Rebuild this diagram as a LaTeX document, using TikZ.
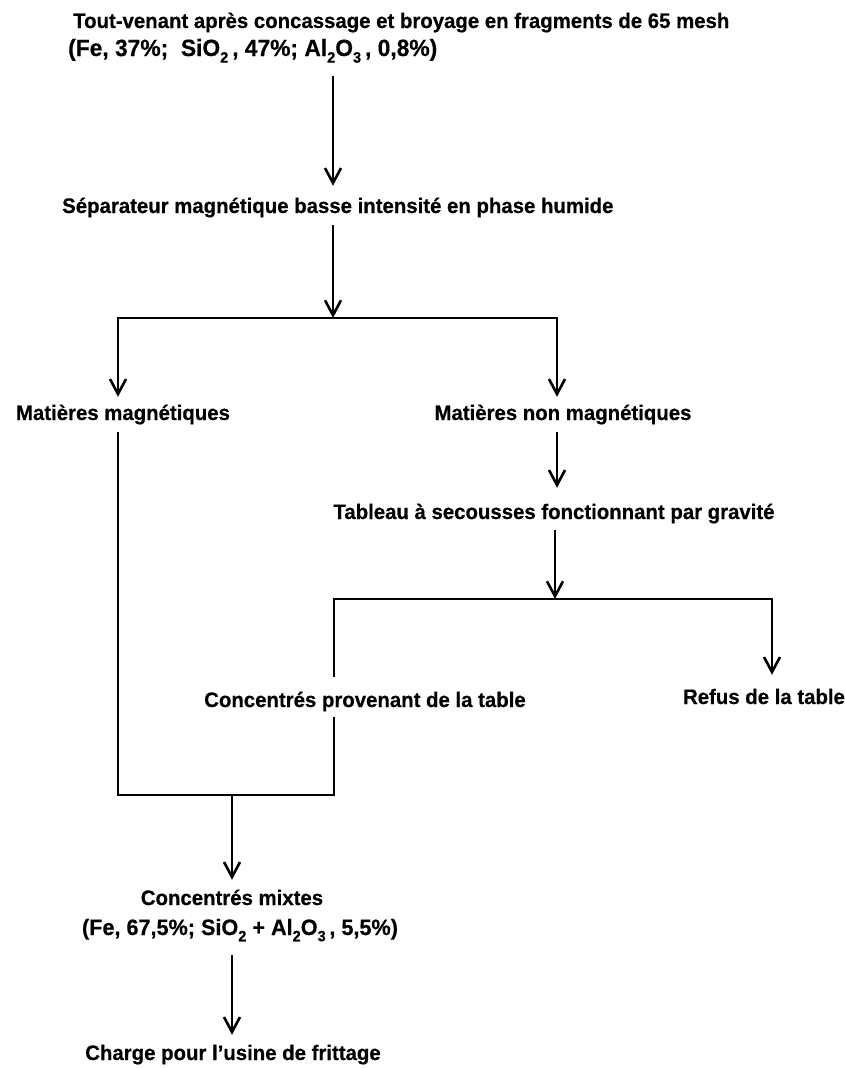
\documentclass[tikz,border=0pt]{standalone}
\usepackage{fontspec}
\setmainfont{Liberation Sans}[FakeStretch=0.97, BoldFeatures={FakeBold=0.5}]
\usetikzlibrary{arrows.meta}
\newcommand{\chsub}[1]{\raisebox{-0.28em}{\fontsize{15}{15}\selectfont #1}}
\begin{document}
\begin{tikzpicture}[x=1pt,y=-1pt,
  lbl/.style={inner sep=0pt, font=\fontsize{21}{25}\selectfont\bfseries, text height=15pt, text depth=4pt},
  big/.style={font=\fontsize{#1}{25}\selectfont\bfseries},
  ln/.style={line width=2.6pt, line join=miter},
  tipv/.style={-{Straight Barb[length=15pt,width=16pt,line width=2.6pt]}},
]
\useasboundingbox (0,0) rectangle (845,1068);
% nodes
\node[lbl, anchor=base west] (n1a) at (73,28) {Tout-venant après concassage et broyage en fragments de 65 mesh};
\node[lbl, big=23.5, anchor=base west] (n1b) at (68,56) {(Fe, 37\%;\ \ SiO\chsub{2}\,, 47\%;\ Al\chsub{2}O\chsub{3}\,, 0,8\%)};
\node[lbl, anchor=base west] (n2) at (62,213) {Séparateur magnétique basse intensité en phase humide};
\node[lbl, anchor=base] (n3) at (123,420) {Matières magnétiques};
\node[lbl, anchor=base] (n4) at (563,420) {Matières non magnétiques};
\node[lbl, anchor=base] (n5) at (554,519) {Tableau à secousses fonctionnant par gravité};
\node[lbl, anchor=base] (n6) at (365,707) {Concentrés provenant de la table};
\node[lbl, anchor=base] (n7) at (764,704) {Refus de la table};
\node[lbl, anchor=base] (n8) at (232,905) {Concentrés mixtes};
\node[lbl, big=22.3, anchor=base] (n9) at (240,935) {(Fe, 67,5\%; SiO\chsub{2} + Al\chsub{2}O\chsub{3}\,, 5,5\%)};
\node[lbl, anchor=base] (n10) at (233,1060) {Charge pour l'usine de frittage};
% junction coordinates
\coordinate (j1) at (333,318);
\coordinate (jl) at (118,318);
\coordinate (jr) at (557,318);
\coordinate (j2) at (555,599);
\coordinate (j2l) at (334,599);
\coordinate (j2r) at (772,599);
\coordinate (j3l) at (118,795);
\coordinate (j3r) at (334,795);
\coordinate (j3) at (232,795);
% connectors
\draw[ln, tipv, shorten <=16pt, shorten >=12pt] (n1b.south -| j1) -- (n2.north -| j1);
\draw[ln, tipv, shorten <=8pt] (n2.south -| j1) -- (j1);
\draw[ln, {Straight Barb[length=15pt,width=16pt,line width=2.6pt]}-{Straight Barb[length=15pt,width=16pt,line width=2.6pt]}, shorten <=8pt, shorten >=8pt] (n3.north -| jl) -- (jl) -- (jr) -- (n4.north -| jr);
\draw[ln, tipv, shorten <=8pt, shorten >=16pt] (n4.south -| jr) -- (n5.north -| jr);
\draw[ln, tipv, shorten <=7pt] (n5.south -| j2) -- (j2);
\draw[ln, tipv, shorten <=15pt, shorten >=14pt] (n6.north -| j2l) -- (j2l) -- (j2r) -- (n7.north -| j2r);
\draw[ln, shorten <=8pt, shorten >=6pt] (n3.south -| j3l) -- (j3l) -- (j3r) -- (n6.south -| j3r);
\draw[ln, tipv, shorten >=10pt] (j3) -- (n8.north -| j3);
\draw[ln, tipv, shorten <=16pt, shorten >=10pt] (n9.south -| j3) -- (n10.north -| j3);
\end{tikzpicture}
\end{document}
